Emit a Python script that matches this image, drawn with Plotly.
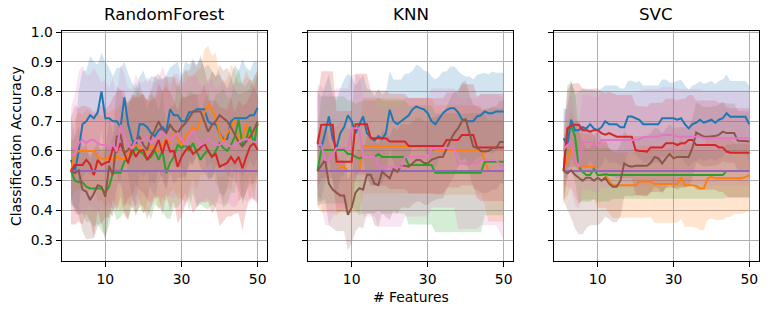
import numpy as np
import plotly.graph_objects as go

# ---------------- data ----------------
n_features = list(range(1, 51))
panel_titles = ["RandomForest", "KNN", "SVC"]
y_ticks = [0.3, 0.4, 0.5, 0.6, 0.7, 0.8, 0.9, 1.0]
x_ticks = [10, 30, 50]
colors = ["#1f77b4", "#ff7f0e", "#2ca02c", "#d62728", "#9467bd", "#8c564b", "#e377c2"]

# RandomForest means
rf_blue = [0.57,0.53,0.60,0.69,0.70,0.72,0.71,0.73,0.80,0.71, 0.71,0.70,0.70,0.68,0.78,0.69,0.64,0.61,0.69,0.69,
           0.68,0.66,0.65,0.67,0.68,0.665,0.74,0.72,0.72,0.70, 0.70,0.73,0.73,0.74,0.74,0.74,0.70,0.69,0.69,0.66,
           0.64,0.64,0.70,0.71,0.71,0.71,0.71,0.72,0.72,0.745]
rf_orange = [0.533,0.59,0.60,0.60,0.60,0.60,0.60,0.58,0.575,0.57, 0.58,0.57,0.58,0.575,0.57,0.59,0.60,0.62,0.615,0.59,
             0.60,0.62,0.61,0.60,0.62,0.64,0.63,0.66,0.64,0.62, 0.65,0.66,0.68,0.67,0.70,0.73,0.755,0.74,0.71,0.66,
             0.63,0.66,0.68,0.705,0.63,0.64,0.69,0.63,0.665,0.69]
rf_green = [0.533,0.50,0.495,0.495,0.48,0.474,0.474,0.474,0.474,0.46, 0.48,0.527,0.527,0.527,0.565,0.57,0.59,0.61,0.60,0.59,
            0.57,0.58,0.60,0.57,0.60,0.525,0.56,0.58,0.62,0.61, 0.62,0.60,0.626,0.60,0.57,0.59,0.603,0.58,0.60,0.626,
            0.61,0.60,0.62,0.648,0.705,0.62,0.64,0.682,0.62,0.693]
rf_red = [0.533,0.553,0.553,0.553,0.57,0.555,0.519,0.57,0.553,0.56, 0.564,0.609,0.598,0.626,0.592,0.558,0.609,0.58,0.60,0.603,
          0.57,0.59,0.609,0.637,0.592,0.637,0.598,0.60,0.547,0.58, 0.60,0.615,0.59,0.60,0.61,0.626,0.60,0.58,0.59,0.547,
          0.553,0.56,0.58,0.56,0.58,0.542,0.58,0.615,0.626,0.603]
rf_purple = [0.533,0.533,0.533,0.533,0.533,0.533,0.533,0.533,0.533,0.533, 0.533,0.533,0.533,0.533,0.533,0.533,0.533,0.533,0.533,0.533,
             0.533,0.533,0.533,0.533,0.533,0.533,0.533,0.533,0.533,0.533, 0.533,0.533,0.533,0.533,0.533,0.533,0.533,0.533,0.533,0.533,
             0.533,0.533,0.533,0.533,0.533,0.533,0.533,0.533,0.533,0.533]
rf_brown = [0.533,0.525,0.535,0.47,0.463,0.435,0.457,0.485,0.48,0.446, 0.55,0.52,0.648,0.654,0.592,0.603,0.62,0.637,0.648,0.62,
            0.603,0.648,0.67,0.70,0.67,0.66,0.688,0.67,0.66,0.68, 0.693,0.71,0.733,0.733,0.733,0.70,0.665,0.688,0.70,0.72,
            0.71,0.70,0.68,0.654,0.63,0.615,0.63,0.648,0.67,0.70]
rf_pink = [0.587,0.587,0.626,0.637,0.626,0.637,0.637,0.626,0.62,0.62, 0.609,0.626,0.598,0.688,0.648,0.62,0.609,0.637,0.631,0.64,
           0.648,0.626,0.64,0.643,0.665,0.65,0.637,0.65,0.66,0.64, 0.62,0.65,0.67,0.64,0.62,0.626,0.643,0.63,0.62,0.62,
           0.63,0.62,0.615,0.62,0.63,0.637,0.64,0.637,0.63,0.63]

# RandomForest standard deviations
rf_blue_sd = [0.15,0.12,0.20,0.18,0.17,0.20,0.19,0.16,0.13,0.19, 0.17,0.15,0.18,0.20,0.12,0.17,0.19,0.20,0.16,0.18,
              0.15,0.19,0.20,0.17,0.16,0.19,0.14,0.17,0.18,0.15, 0.20,0.16,0.18,0.15,0.17,0.14,0.19,0.18,0.16,0.20,
              0.19,0.17,0.15,0.18,0.16,0.20,0.17,0.15,0.18,0.16]
rf_orange_sd = [0.10,0.12,0.13,0.12,0.14,0.13,0.12,0.15,0.14,0.16, 0.15,0.17,0.16,0.18,0.15,0.17,0.19,0.16,0.18,0.20,
                0.17,0.19,0.16,0.20,0.18,0.21,0.17,0.19,0.20,0.18, 0.22,0.19,0.17,0.20,0.18,0.21,0.20,0.18,0.22,0.19,
                0.20,0.18,0.21,0.17,0.20,0.19,0.18,0.21,0.17,0.19]
rf_green_sd = [0.08,0.10,0.11,0.10,0.12,0.11,0.13,0.12,0.14,0.15, 0.13,0.12,0.16,0.15,0.17,0.20,0.18,0.22,0.19,0.20,
               0.17,0.21,0.18,0.16,0.20,0.15,0.19,0.17,0.21,0.18, 0.16,0.20,0.17,0.19,0.15,0.18,0.20,0.16,0.19,0.17,
               0.20,0.18,0.16,0.19,0.17,0.20,0.18,0.16,0.19,0.17]
rf_red_sd = [0.18,0.20,0.19,0.20,0.18,0.19,0.21,0.17,0.20,0.18, 0.19,0.17,0.20,0.18,0.21,0.19,0.17,0.20,0.18,0.19,
             0.20,0.18,0.17,0.19,0.21,0.18,0.20,0.17,0.19,0.20, 0.18,0.17,0.20,0.19,0.18,0.20,0.17,0.19,0.18,0.20,
             0.19,0.18,0.20,0.17,0.19,0.21,0.18,0.17,0.19,0.18]
rf_purple_sd = [0.0,0.0,0.0,0.0,0.0,0.0,0.0,0.0,0.0,0.0, 0.0,0.0,0.0,0.0,0.0,0.0,0.0,0.0,0.0,0.0,
                0.0,0.0,0.0,0.0,0.0,0.0,0.0,0.0,0.0,0.0, 0.0,0.0,0.0,0.0,0.0,0.0,0.0,0.0,0.0,0.0,
                0.0,0.0,0.0,0.0,0.0,0.0,0.0,0.0,0.0,0.0]
rf_brown_sd = [0.10,0.12,0.15,0.14,0.16,0.13,0.15,0.14,0.12,0.15, 0.16,0.14,0.17,0.15,0.18,0.16,0.17,0.15,0.18,0.16,
               0.17,0.15,0.18,0.16,0.17,0.19,0.16,0.18,0.15,0.17, 0.18,0.16,0.17,0.15,0.19,0.17,0.16,0.18,0.15,0.17,
               0.16,0.18,0.17,0.15,0.16,0.18,0.17,0.16,0.18,0.17]
rf_pink_sd = [0.16,0.20,0.24,0.25,0.23,0.22,0.24,0.23,0.21,0.22, 0.20,0.22,0.19,0.20,0.21,0.19,0.20,0.22,0.20,0.19,
              0.20,0.21,0.19,0.20,0.22,0.20,0.19,0.21,0.20,0.19, 0.21,0.20,0.19,0.21,0.20,0.19,0.20,0.21,0.19,0.20,
              0.21,0.19,0.20,0.21,0.20,0.19,0.21,0.20,0.19,0.20]

# KNN means
knn_blue = [0.626,0.61,0.66,0.716,0.64,0.61,0.66,0.68,0.72,0.70, 0.66,0.69,0.716,0.66,0.645,0.635,0.65,0.64,0.66,0.738,
            0.70,0.69,0.70,0.71,0.72,0.74,0.75,0.744,0.74,0.727, 0.70,0.69,0.71,0.727,0.738,0.744,0.744,0.73,0.707,0.70,
            0.70,0.70,0.716,0.72,0.733,0.727,0.727,0.733,0.733,0.733]
knn_orange = [0.533,0.533,0.533,0.533,0.533,0.533,0.547,0.547,0.533,0.533, 0.533,0.533,0.617,0.617,0.617,0.617,0.617,0.617,0.617,0.617,
              0.617,0.617,0.617,0.617,0.617,0.617,0.617,0.617,0.617,0.617, 0.617,0.603,0.603,0.603,0.603,0.603,0.603,0.603,0.603,0.603,
              0.603,0.603,0.603,0.603,0.57,0.533,0.533,0.533,0.533,0.533]
knn_green = [0.533,0.603,0.603,0.603,0.603,0.603,0.603,0.603,0.59,0.59, 0.58,0.575,0.58,0.58,0.58,0.58,0.59,0.58,0.58,0.58,
             0.58,0.58,0.58,0.58,0.553,0.553,0.553,0.553,0.553,0.553, 0.553,0.527,0.527,0.527,0.527,0.527,0.527,0.527,0.527,0.527,
             0.527,0.527,0.527,0.527,0.564,0.564,0.564,0.564,0.564,0.564]
knn_red = [0.625,0.688,0.688,0.688,0.688,0.564,0.564,0.564,0.564,0.564, 0.69,0.69,0.69,0.69,0.643,0.643,0.643,0.643,0.643,0.632,
           0.632,0.632,0.632,0.632,0.617,0.617,0.617,0.617,0.617,0.617, 0.617,0.617,0.617,0.617,0.637,0.637,0.637,0.637,0.654,0.654,
           0.654,0.654,0.612,0.612,0.612,0.612,0.612,0.612,0.612,0.612]
knn_purple = [0.533,0.533,0.533,0.533,0.533,0.533,0.533,0.533,0.533,0.533, 0.533,0.533,0.533,0.533,0.533,0.533,0.533,0.533,0.533,0.533,
              0.533,0.533,0.533,0.533,0.533,0.533,0.533,0.533,0.533,0.533, 0.533,0.533,0.533,0.533,0.533,0.533,0.533,0.533,0.533,0.533,
              0.533,0.533,0.533,0.533,0.533,0.533,0.533,0.533,0.533,0.533]
knn_brown = [0.533,0.55,0.57,0.49,0.47,0.46,0.45,0.45,0.385,0.41, 0.46,0.475,0.47,0.52,0.52,0.49,0.485,0.53,0.52,0.508,
             0.54,0.53,0.55,0.55,0.547,0.56,0.57,0.57,0.56,0.558, 0.57,0.575,0.58,0.58,0.61,0.637,0.66,0.676,0.70,0.707,
             0.66,0.615,0.61,0.60,0.598,0.60,0.61,0.61,0.63,0.63]
knn_pink = [0.62,0.62,0.57,0.57,0.59,0.61,0.61,0.61,0.61,0.676, 0.676,0.676,0.58,0.58,0.58,0.58,0.545,0.545,0.545,0.545,
            0.545,0.545,0.545,0.58,0.58,0.58,0.58,0.58,0.58,0.58, 0.61,0.61,0.61,0.61,0.61,0.61,0.61,0.558,0.558,0.558,
            0.558,0.558,0.558,0.57,0.57,0.57,0.57,0.57,0.555,0.54]

# KNN standard deviations
knn_blue_sd = [0.18,0.17,0.16,0.14,0.15,0.16,0.15,0.16,0.14,0.15, 0.16,0.15,0.14,0.15,0.16,0.15,0.16,0.15,0.14,0.13,
               0.14,0.15,0.14,0.15,0.14,0.13,0.14,0.14,0.13,0.14, 0.15,0.15,0.14,0.14,0.13,0.14,0.14,0.14,0.15,0.15,
               0.15,0.14,0.14,0.14,0.13,0.13,0.14,0.13,0.13,0.13]
knn_orange_sd = [0.12,0.14,0.14,0.14,0.14,0.15,0.15,0.15,0.14,0.14, 0.14,0.14,0.16,0.16,0.16,0.16,0.16,0.16,0.16,0.16,
                 0.16,0.16,0.16,0.16,0.16,0.16,0.16,0.16,0.16,0.16, 0.16,0.15,0.15,0.15,0.15,0.15,0.15,0.15,0.15,0.15,
                 0.15,0.15,0.15,0.15,0.15,0.17,0.17,0.17,0.17,0.17]
knn_green_sd = [0.12,0.18,0.18,0.18,0.18,0.18,0.18,0.18,0.18,0.18, 0.18,0.19,0.19,0.19,0.19,0.19,0.19,0.19,0.19,0.19,
                0.19,0.19,0.19,0.19,0.20,0.20,0.20,0.20,0.20,0.20, 0.20,0.20,0.20,0.20,0.20,0.20,0.20,0.20,0.20,0.20,
                0.20,0.20,0.20,0.20,0.18,0.18,0.18,0.18,0.18,0.18]
knn_red_sd = [0.15,0.18,0.18,0.18,0.18,0.17,0.17,0.17,0.17,0.17, 0.17,0.17,0.17,0.17,0.16,0.16,0.16,0.16,0.16,0.16,
              0.16,0.16,0.16,0.16,0.16,0.16,0.16,0.16,0.16,0.16, 0.16,0.16,0.16,0.16,0.16,0.16,0.16,0.16,0.17,0.17,
              0.17,0.17,0.17,0.18,0.18,0.18,0.18,0.18,0.18,0.18]
knn_purple_sd = [0.0,0.0,0.0,0.0,0.0,0.0,0.0,0.0,0.0,0.0, 0.0,0.0,0.0,0.0,0.0,0.0,0.0,0.0,0.0,0.0,
                 0.0,0.0,0.0,0.0,0.0,0.0,0.0,0.0,0.0,0.0, 0.0,0.0,0.0,0.0,0.0,0.0,0.0,0.0,0.0,0.0,
                 0.0,0.0,0.0,0.0,0.0,0.0,0.0,0.0,0.0,0.0]
knn_brown_sd = [0.10,0.12,0.13,0.14,0.13,0.13,0.12,0.12,0.12,0.12, 0.13,0.13,0.13,0.13,0.13,0.14,0.14,0.14,0.14,0.14,
                0.14,0.14,0.14,0.14,0.14,0.14,0.14,0.14,0.14,0.14, 0.14,0.14,0.14,0.14,0.14,0.14,0.14,0.13,0.13,0.13,
                0.13,0.14,0.14,0.14,0.14,0.14,0.14,0.14,0.14,0.14]
knn_pink_sd = [0.20,0.20,0.22,0.22,0.21,0.20,0.20,0.20,0.20,0.18, 0.18,0.18,0.20,0.20,0.20,0.20,0.20,0.20,0.20,0.20,
               0.20,0.20,0.20,0.20,0.20,0.20,0.20,0.20,0.20,0.20, 0.20,0.20,0.20,0.20,0.20,0.20,0.20,0.22,0.22,0.22,
               0.22,0.22,0.22,0.22,0.22,0.22,0.22,0.22,0.23,0.24]

# SVC means
svc_blue = [0.643,0.62,0.705,0.67,0.67,0.68,0.675,0.69,0.675,0.67, 0.68,0.70,0.69,0.69,0.69,0.68,0.68,0.716,0.716,0.71,
            0.705,0.69,0.69,0.69,0.69,0.69,0.71,0.71,0.71,0.71, 0.705,0.71,0.69,0.676,0.69,0.695,0.705,0.695,0.70,0.705,
            0.695,0.705,0.71,0.727,0.715,0.715,0.715,0.715,0.715,0.69]
svc_orange = [0.533,0.57,0.61,0.57,0.54,0.547,0.547,0.547,0.547,0.519, 0.519,0.519,0.50,0.485,0.485,0.485,0.485,0.485,0.485,0.485,
              0.497,0.497,0.497,0.497,0.489,0.489,0.489,0.489,0.489,0.489, 0.489,0.511,0.485,0.485,0.485,0.482,0.474,0.474,0.508,0.513,
              0.508,0.508,0.508,0.508,0.508,0.508,0.508,0.508,0.513,0.519]
svc_green = [0.533,0.67,0.685,0.65,0.547,0.53,0.519,0.519,0.54,0.519, 0.519,0.522,0.519,0.519,0.519,0.519,0.519,0.519,0.519,0.519,
             0.519,0.519,0.519,0.519,0.519,0.519,0.519,0.519,0.519,0.519, 0.519,0.519,0.519,0.519,0.519,0.519,0.519,0.519,0.519,0.519,
             0.519,0.519,0.519,0.533,0.533,0.533,0.533,0.533,0.533,0.533]
svc_red = [0.533,0.676,0.685,0.688,0.688,0.67,0.67,0.665,0.67,0.67, 0.66,0.655,0.66,0.655,0.648,0.648,0.648,0.648,0.648,0.603,
           0.60,0.60,0.598,0.612,0.612,0.612,0.612,0.626,0.626,0.626, 0.62,0.626,0.626,0.637,0.637,0.62,0.62,0.62,0.62,0.62,
           0.62,0.612,0.612,0.598,0.594,0.594,0.594,0.594,0.594,0.594]
svc_purple = [0.533,0.533,0.533,0.533,0.533,0.533,0.533,0.533,0.533,0.533, 0.533,0.533,0.533,0.533,0.533,0.533,0.533,0.533,0.533,0.533,
              0.533,0.533,0.533,0.533,0.533,0.533,0.533,0.533,0.533,0.533, 0.533,0.533,0.533,0.533,0.533,0.533,0.533,0.533,0.533,0.533,
              0.533,0.533,0.533,0.533,0.533,0.533,0.533,0.533,0.533,0.533]
svc_brown = [0.533,0.525,0.535,0.52,0.51,0.50,0.51,0.51,0.50,0.51, 0.50,0.51,0.49,0.48,0.48,0.50,0.558,0.55,0.547,0.55,
             0.55,0.55,0.55,0.56,0.58,0.575,0.558,0.575,0.59,0.575, 0.58,0.58,0.58,0.58,0.61,0.662,0.655,0.648,0.648,0.65,
             0.65,0.655,0.665,0.66,0.66,0.66,0.634,0.634,0.633,0.633]
svc_pink = [0.605,0.62,0.63,0.57,0.545,0.63,0.63,0.63,0.62,0.62, 0.637,0.637,0.637,0.637,0.637,0.637,0.637,0.637,0.637,0.637,
            0.64,0.646,0.648,0.648,0.648,0.648,0.654,0.654,0.654,0.654, 0.648,0.648,0.648,0.648,0.648,0.648,0.648,0.643,0.643,0.643,
            0.643,0.643,0.643,0.643,0.643,0.643,0.643,0.643,0.643,0.643]

# SVC standard deviations
svc_blue_sd = [0.10,0.12,0.13,0.12,0.13,0.13,0.13,0.12,0.13,0.13, 0.13,0.12,0.13,0.13,0.13,0.13,0.13,0.12,0.12,0.12,
               0.13,0.13,0.13,0.13,0.13,0.13,0.13,0.13,0.12,0.12, 0.13,0.13,0.13,0.13,0.13,0.13,0.13,0.13,0.13,0.13,
               0.13,0.13,0.13,0.13,0.12,0.12,0.12,0.12,0.12,0.13]
svc_orange_sd = [0.10,0.12,0.13,0.12,0.12,0.11,0.11,0.11,0.11,0.11, 0.11,0.11,0.11,0.11,0.11,0.11,0.11,0.11,0.11,0.11,
                 0.12,0.12,0.12,0.12,0.13,0.13,0.13,0.13,0.13,0.13, 0.13,0.14,0.14,0.14,0.14,0.14,0.14,0.14,0.14,0.14,
                 0.14,0.14,0.14,0.13,0.13,0.12,0.12,0.12,0.12,0.12]
svc_green_sd = [0.10,0.15,0.15,0.15,0.12,0.10,0.09,0.09,0.10,0.09, 0.09,0.09,0.09,0.08,0.08,0.08,0.08,0.08,0.08,0.08,
                0.08,0.08,0.08,0.08,0.08,0.08,0.08,0.08,0.08,0.08, 0.08,0.08,0.08,0.08,0.08,0.08,0.08,0.08,0.08,0.08,
                0.08,0.08,0.08,0.09,0.09,0.09,0.09,0.09,0.09,0.09]
svc_red_sd = [0.12,0.13,0.14,0.14,0.14,0.14,0.14,0.14,0.14,0.14, 0.14,0.14,0.14,0.14,0.14,0.14,0.14,0.14,0.14,0.15,
              0.15,0.15,0.15,0.15,0.15,0.15,0.15,0.15,0.15,0.15, 0.15,0.15,0.15,0.15,0.15,0.15,0.15,0.15,0.15,0.15,
              0.15,0.15,0.15,0.15,0.15,0.15,0.15,0.15,0.15,0.15]
svc_purple_sd = [0.0,0.0,0.0,0.0,0.0,0.0,0.0,0.0,0.0,0.0, 0.0,0.0,0.0,0.0,0.0,0.0,0.0,0.0,0.0,0.0,
                 0.0,0.0,0.0,0.0,0.0,0.0,0.0,0.0,0.0,0.0, 0.0,0.0,0.0,0.0,0.0,0.0,0.0,0.0,0.0,0.0,
                 0.0,0.0,0.0,0.0,0.0,0.0,0.0,0.0,0.0,0.0]
svc_brown_sd = [0.10,0.12,0.16,0.18,0.19,0.18,0.17,0.16,0.15,0.16, 0.14,0.13,0.12,0.12,0.12,0.12,0.11,0.10,0.10,0.10,
                0.10,0.10,0.10,0.10,0.10,0.10,0.10,0.10,0.10,0.10, 0.10,0.10,0.10,0.10,0.10,0.10,0.10,0.10,0.10,0.10,
                0.10,0.10,0.10,0.10,0.10,0.10,0.10,0.10,0.10,0.10]
svc_pink_sd = [0.12,0.14,0.16,0.15,0.14,0.16,0.16,0.16,0.16,0.16, 0.16,0.16,0.16,0.16,0.16,0.16,0.16,0.16,0.16,0.16,
               0.16,0.16,0.16,0.16,0.16,0.16,0.16,0.16,0.16,0.16, 0.16,0.16,0.16,0.16,0.16,0.16,0.16,0.16,0.16,0.16,
               0.16,0.16,0.16,0.16,0.16,0.16,0.16,0.16,0.16,0.16]

panels = [
    [(rf_blue, rf_blue_sd), (rf_orange, rf_orange_sd), (rf_green, rf_green_sd), (rf_red, rf_red_sd),
     (rf_purple, rf_purple_sd), (rf_brown, rf_brown_sd), (rf_pink, rf_pink_sd)],
    [(knn_blue, knn_blue_sd), (knn_orange, knn_orange_sd), (knn_green, knn_green_sd), (knn_red, knn_red_sd),
     (knn_purple, knn_purple_sd), (knn_brown, knn_brown_sd), (knn_pink, knn_pink_sd)],
    [(svc_blue, svc_blue_sd), (svc_orange, svc_orange_sd), (svc_green, svc_green_sd), (svc_red, svc_red_sd),
     (svc_purple, svc_purple_sd), (svc_brown, svc_brown_sd), (svc_pink, svc_pink_sd)],
]

# ---------------- layout geometry (page pixels) ----------------
W, H = 772, 314
PLOT_TOP, PLOT_BOTTOM = 31, 260.7
M_T, M_B = PLOT_TOP, H - PLOT_BOTTOM
PLOT_H = PLOT_BOTTOM - PLOT_TOP
domains_px = [(61.7, 267.0), (308.2, 513.0), (554.3, 758.6)]
FONT = "DejaVu Sans"


def rgba(hex_color, a):
    h = hex_color.lstrip("#")
    return f"rgba({int(h[0:2], 16)},{int(h[2:4], 16)},{int(h[4:6], 16)},{a})"


fig = go.Figure()
x_arr = np.array(n_features)

for p, series in enumerate(panels):
    xa = "x" if p == 0 else f"x{p + 1}"
    ya = "y" if p == 0 else f"y{p + 1}"
    for (mean, sd), c in zip(series, colors):
        m = np.array(mean)
        s = np.array(sd)
        if np.all(s == 0):
            continue
        fig.add_trace(go.Scatter(
            x=np.concatenate([x_arr, x_arr[::-1]]),
            y=np.concatenate([m + s, (m - s)[::-1]]),
            fill="toself", fillcolor=rgba(c, 0.2), line=dict(width=0),
            mode="lines", hoverinfo="skip", showlegend=False, xaxis=xa, yaxis=ya))
    for (mean, sd), c in zip(series, colors):
        fig.add_trace(go.Scatter(
            x=n_features, y=mean, mode="lines", line=dict(color=c, width=2),
            hoverinfo="skip", showlegend=False, xaxis=xa, yaxis=ya))

axis_common = dict(
    showline=True, linecolor="black", linewidth=1, mirror=True,
    ticks="outside", ticklen=5, tickwidth=1, tickcolor="black",
    showgrid=True, gridcolor="#b0b0b0", gridwidth=1, zeroline=False,
    tickfont=dict(family=FONT, size=13.9, color="black"),
    fixedrange=True,
)

layout = dict(
    width=W, height=H,
    margin=dict(l=0, r=0, t=M_T, b=M_B, autoexpand=False),
    paper_bgcolor="white", plot_bgcolor="white",
    showlegend=False, hovermode=False,
    font=dict(family=FONT, color="black"),
)

for p in range(3):
    xk = "xaxis" if p == 0 else f"xaxis{p + 1}"
    yk = "yaxis" if p == 0 else f"yaxis{p + 1}"
    ya = "y" if p == 0 else f"y{p + 1}"
    xa = "x" if p == 0 else f"x{p + 1}"
    d0, d1 = domains_px[p]
    layout[xk] = dict(axis_common, domain=[d0 / W, d1 / W], range=[-1.45, 52.45],
                      tickvals=x_ticks, anchor=ya)
    layout[yk] = dict(axis_common, domain=[0, 1], range=[0.23, 1.0034],
                      tickvals=y_ticks, ticktext=[f"{v:.1f}" for v in y_ticks],
                      showticklabels=(p == 0), anchor=xa)

fig.update_layout(**layout)


def py(page_y):
    """page pixel y -> paper coordinate"""
    return (PLOT_BOTTOM - page_y) / PLOT_H


for p, t in enumerate(panel_titles):
    d0, d1 = domains_px[p]
    fig.add_annotation(text=t, xref="paper", yref="paper", x=(d0 + d1) / 2 / W,
                       y=py(14), xanchor="center", yanchor="middle",
                       showarrow=False, font=dict(family=FONT, size=16.7, color="black"))

fig.add_annotation(text="Classification Accuracy", xref="paper", yref="paper",
                   x=16 / W, y=0.5, xanchor="center", yanchor="middle", textangle=-90,
                   showarrow=False, font=dict(family=FONT, size=13.9, color="black"))
fig.add_annotation(text="# Features", xref="paper", yref="paper",
                   x=(domains_px[1][0] + domains_px[1][1]) / 2 / W,
                   y=py(297), xanchor="center", yanchor="middle",
                   showarrow=False, font=dict(family=FONT, size=13.9, color="black"))

# remove the default 8px page margin so the figure sits at the window origin
fig.write_html("out.html", config=dict(displayModeBar=False, staticPlot=True),
               post_script="document.body.style.margin='0';")
